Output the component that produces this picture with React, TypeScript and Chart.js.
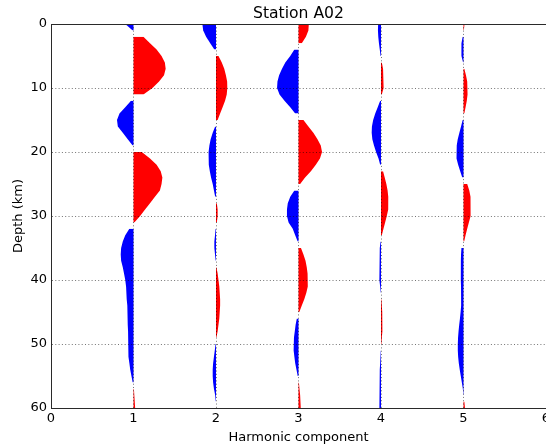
import React, { useEffect, useRef } from "react";
import { Chart, registerables } from "chart.js";

Chart.register(...registerables);

// Depth samples (km)
const depths = [
  0, 1, 2, 3, 4, 5, 6, 7, 8, 9, 10, 11, 12, 13, 14, 15, 16, 17, 18, 19, 20,
  21, 22, 23, 24, 25, 26, 27, 28, 29, 30, 31, 32, 33, 34, 35, 36, 37, 38, 39, 40,
  41, 42, 43, 44, 45, 46, 47, 48, 49, 50, 51, 52, 53, 54, 55, 56, 57, 58, 59, 60,
];

// Harmonic components (trace centres on the x axis)
const harmonics = [1, 2, 3, 4, 5];

// Amplitudes of each harmonic trace, one value per depth sample
const amp1 = [
  -0.1, -0.01, 0.12, 0.2, 0.28, 0.34, 0.38, 0.39, 0.37, 0.31, 0.23,
  0.12, -0.03, -0.1, -0.17, -0.2, -0.19, -0.13, -0.07, -0.01, 0.1,
  0.2, 0.28, 0.33, 0.35, 0.34, 0.32, 0.26, 0.2, 0.14, 0.08,
  0.01, -0.05, -0.1, -0.13, -0.15, -0.155, -0.15, -0.13, -0.115, -0.1,
  -0.09, -0.085, -0.08, -0.075, -0.072, -0.07, -0.068, -0.066, -0.065, -0.063,
  -0.06, -0.057, -0.05, -0.04, -0.025, -0.01, 0.005, 0.01, 0.015, 0.02,
];
const amp2 = [
  -0.165, -0.155, -0.12, -0.07, -0.02, 0.03, 0.07, 0.1, 0.12, 0.135, 0.137,
  0.13, 0.11, 0.08, 0.05, 0.02, -0.01, -0.04, -0.065, -0.08, -0.09,
  -0.09, -0.085, -0.075, -0.06, -0.04, -0.025, -0.01, 0.01, 0.02, 0.02,
  0.01, -0.005, -0.012, -0.02, -0.02, -0.012, -0.004, 0.005, 0.02, 0.03,
  0.04, 0.045, 0.05, 0.05, 0.045, 0.04, 0.03, 0.02, 0.005, -0.005,
  -0.015, -0.025, -0.035, -0.04, -0.04, -0.035, -0.025, -0.01, -0.003, 0.003,
];
const amp3 = [
  0.125, 0.12, 0.09, 0.04, -0.05, -0.1, -0.16, -0.2, -0.235, -0.255, -0.26,
  -0.23, -0.17, -0.1, -0.04, 0.06, 0.12, 0.18, 0.23, 0.27, 0.285,
  0.26, 0.21, 0.15, 0.08, 0.02, -0.05, -0.1, -0.13, -0.14, -0.14,
  -0.12, -0.07, -0.04, -0.01, 0.03, 0.06, 0.085, 0.1, 0.11, 0.115,
  0.11, 0.095, 0.07, 0.04, 0.01, -0.02, -0.035, -0.045, -0.055, -0.06,
  -0.058, -0.05, -0.04, -0.025, -0.01, 0.005, 0.012, 0.02, 0.025, 0.03,
];
const amp4 = [
  -0.035, -0.037, -0.033, -0.025, -0.015, -0.005, 0.01, 0.025, 0.035, 0.035, 0.025,
  0.01, -0.01, -0.04, -0.07, -0.095, -0.11, -0.113, -0.105, -0.085, -0.06,
  -0.03, -0.01, 0.025, 0.045, 0.065, 0.08, 0.088, 0.09, 0.085, 0.07,
  0.05, 0.03, 0.01, -0.005, -0.015, -0.02, -0.022, -0.022, -0.02, -0.015,
  -0.01, -0.003, 0.005, 0.01, 0.015, 0.018, 0.018, 0.015, 0.01, 0.005,
  -0.003, -0.008, -0.012, -0.015, -0.018, -0.02, -0.02, -0.02, -0.02, -0.02,
];
const amp5 = [
  0.012, 0.004, -0.01, -0.025, -0.03, -0.02, -0.005, 0.01, 0.03, 0.045, 0.05,
  0.048, 0.04, 0.025, 0.01, -0.01, -0.03, -0.05, -0.07, -0.082, -0.087,
  -0.082, -0.065, -0.04, -0.015, 0.045, 0.07, 0.085, 0.09, 0.088, 0.08,
  0.065, 0.045, 0.025, 0.008, -0.025, -0.03, -0.032, -0.033, -0.033, -0.032,
  -0.03, -0.028, -0.028, -0.03, -0.035, -0.043, -0.052, -0.06, -0.066, -0.069,
  -0.069, -0.065, -0.057, -0.046, -0.033, -0.02, -0.008, -0.002, 0.01, 0.018,
];

const amplitudes = [amp1, amp2, amp3, amp4, amp5];

const xMin = 0;
const xMax = 6;
const depthMin = 0;
const depthMax = 60;

const FONT = "'DejaVu Sans', sans-serif";
const POS_COLOR = "#ff0000";
const NEG_COLOR = "#0000ff";
const GRID_COLOR = "rgba(0,0,0,0.55)";
const SPINE_COLOR = "#2a2a2a";

function buildDatasets() {
  const out: any[] = [];
  harmonics.forEach((h, k) => {
    const a = amplitudes[k];
    const common = {
      fill: { value: h },
      borderWidth: 0,
      pointRadius: 0,
      showLine: true,
      spanGaps: false,
      tension: 0,
      xAxisID: "x",
      yAxisID: "y",
      indexAxis: "y",
    };
    out.push({
      ...common,
      label: `H${h}+`,
      backgroundColor: POS_COLOR,
      borderColor: POS_COLOR,
      data: depths.map((d, i) => ({ y: d, x: a[i] > 0 ? h + a[i] : null })),
    });
    out.push({
      ...common,
      label: `H${h}-`,
      backgroundColor: NEG_COLOR,
      borderColor: NEG_COLOR,
      data: depths.map((d, i) => ({ y: d, x: a[i] < 0 ? h + a[i] : null })),
    });
  });
  return out;
}

export default function App() {
  const ref = useRef<HTMLCanvasElement | null>(null);

  useEffect(() => {
    document.body.style.margin = "0";
    const canvas = ref.current;
    if (!canvas) return;

    const chart = new Chart(canvas, {
      type: "line",
      data: { datasets: buildDatasets() },
      options: {
        animation: false,
        responsive: false,
        devicePixelRatio: 1,
        indexAxis: "y",
        events: [],
        layout: { padding: { left: 0, right: 0, top: 0, bottom: 0 } },
        plugins: {
          legend: { display: false },
          tooltip: { enabled: false },
          title: {
            display: true,
            text: "Station A02",
            fullSize: false,
            color: "#000",
            font: { family: FONT, size: 15.6, weight: "normal", lineHeight: 1.2 },
            padding: { top: 4.5, bottom: 0.8 },
          },
        },
        scales: {
          x: {
            type: "linear",
            position: "bottom",
            min: xMin,
            max: xMax,
            ticks: {
              stepSize: 1,
              color: "#000",
              font: { family: FONT, size: 13 },
              padding: 3,
              maxRotation: 0,
              autoSkip: false,
            },
            grid: {
              z: 1,
              drawTicks: false,
              lineWidth: 1,
              color: (c: any) =>
                c.tick && (c.tick.value <= xMin || c.tick.value >= xMax) ? "rgba(0,0,0,0)" : GRID_COLOR,
            },
            border: { display: true, color: SPINE_COLOR, width: 1, dash: [1, 2.3], z: 1 },
            title: {
              display: true,
              text: "Harmonic component",
              color: "#000",
              font: { family: FONT, size: 13 },
              padding: { top: 0, bottom: 2 },
            },
            afterFit: (s: any) => {
              s.height = 39;
              s.paddingLeft = 0;
              s.paddingRight = 0;
            },
          },
          xTop: {
            type: "linear",
            position: "top",
            axis: "x",
            min: xMin,
            max: xMax,
            ticks: { display: false },
            grid: { display: false, drawTicks: false },
            border: { display: true, color: SPINE_COLOR, width: 1, z: 1 },
            afterFit: (s: any) => {
              s.height = 0;
              s.paddingLeft = 0;
              s.paddingRight = 0;
            },
          },
          y: {
            type: "linear",
            position: "left",
            reverse: true,
            min: depthMin,
            max: depthMax,
            ticks: {
              stepSize: 10,
              color: "#000",
              font: { family: FONT, size: 13 },
              padding: 4,
            },
            grid: {
              z: 1,
              drawTicks: false,
              lineWidth: 1,
              color: (c: any) =>
                c.tick && (c.tick.value <= depthMin || c.tick.value >= depthMax) ? "rgba(0,0,0,0)" : GRID_COLOR,
            },
            border: { display: true, color: SPINE_COLOR, width: 1, dash: [1, 2.3], z: 1 },
            title: {
              display: true,
              text: "Depth (km)",
              color: "#000",
              font: { family: FONT, size: 13 },
              padding: { top: 11, bottom: 0 },
            },
            afterFit: (s: any) => {
              s.width = 51;
              s.paddingTop = 0;
              s.paddingBottom = 0;
            },
          },
        },
      } as any,
    });

    return () => {
      chart.destroy();
    };
  }, []);

  return (
    <div style={{ width: 546, height: 447 }}>
      <canvas ref={ref} width={546} height={447} style={{ display: "block" }} />
    </div>
  );
}
